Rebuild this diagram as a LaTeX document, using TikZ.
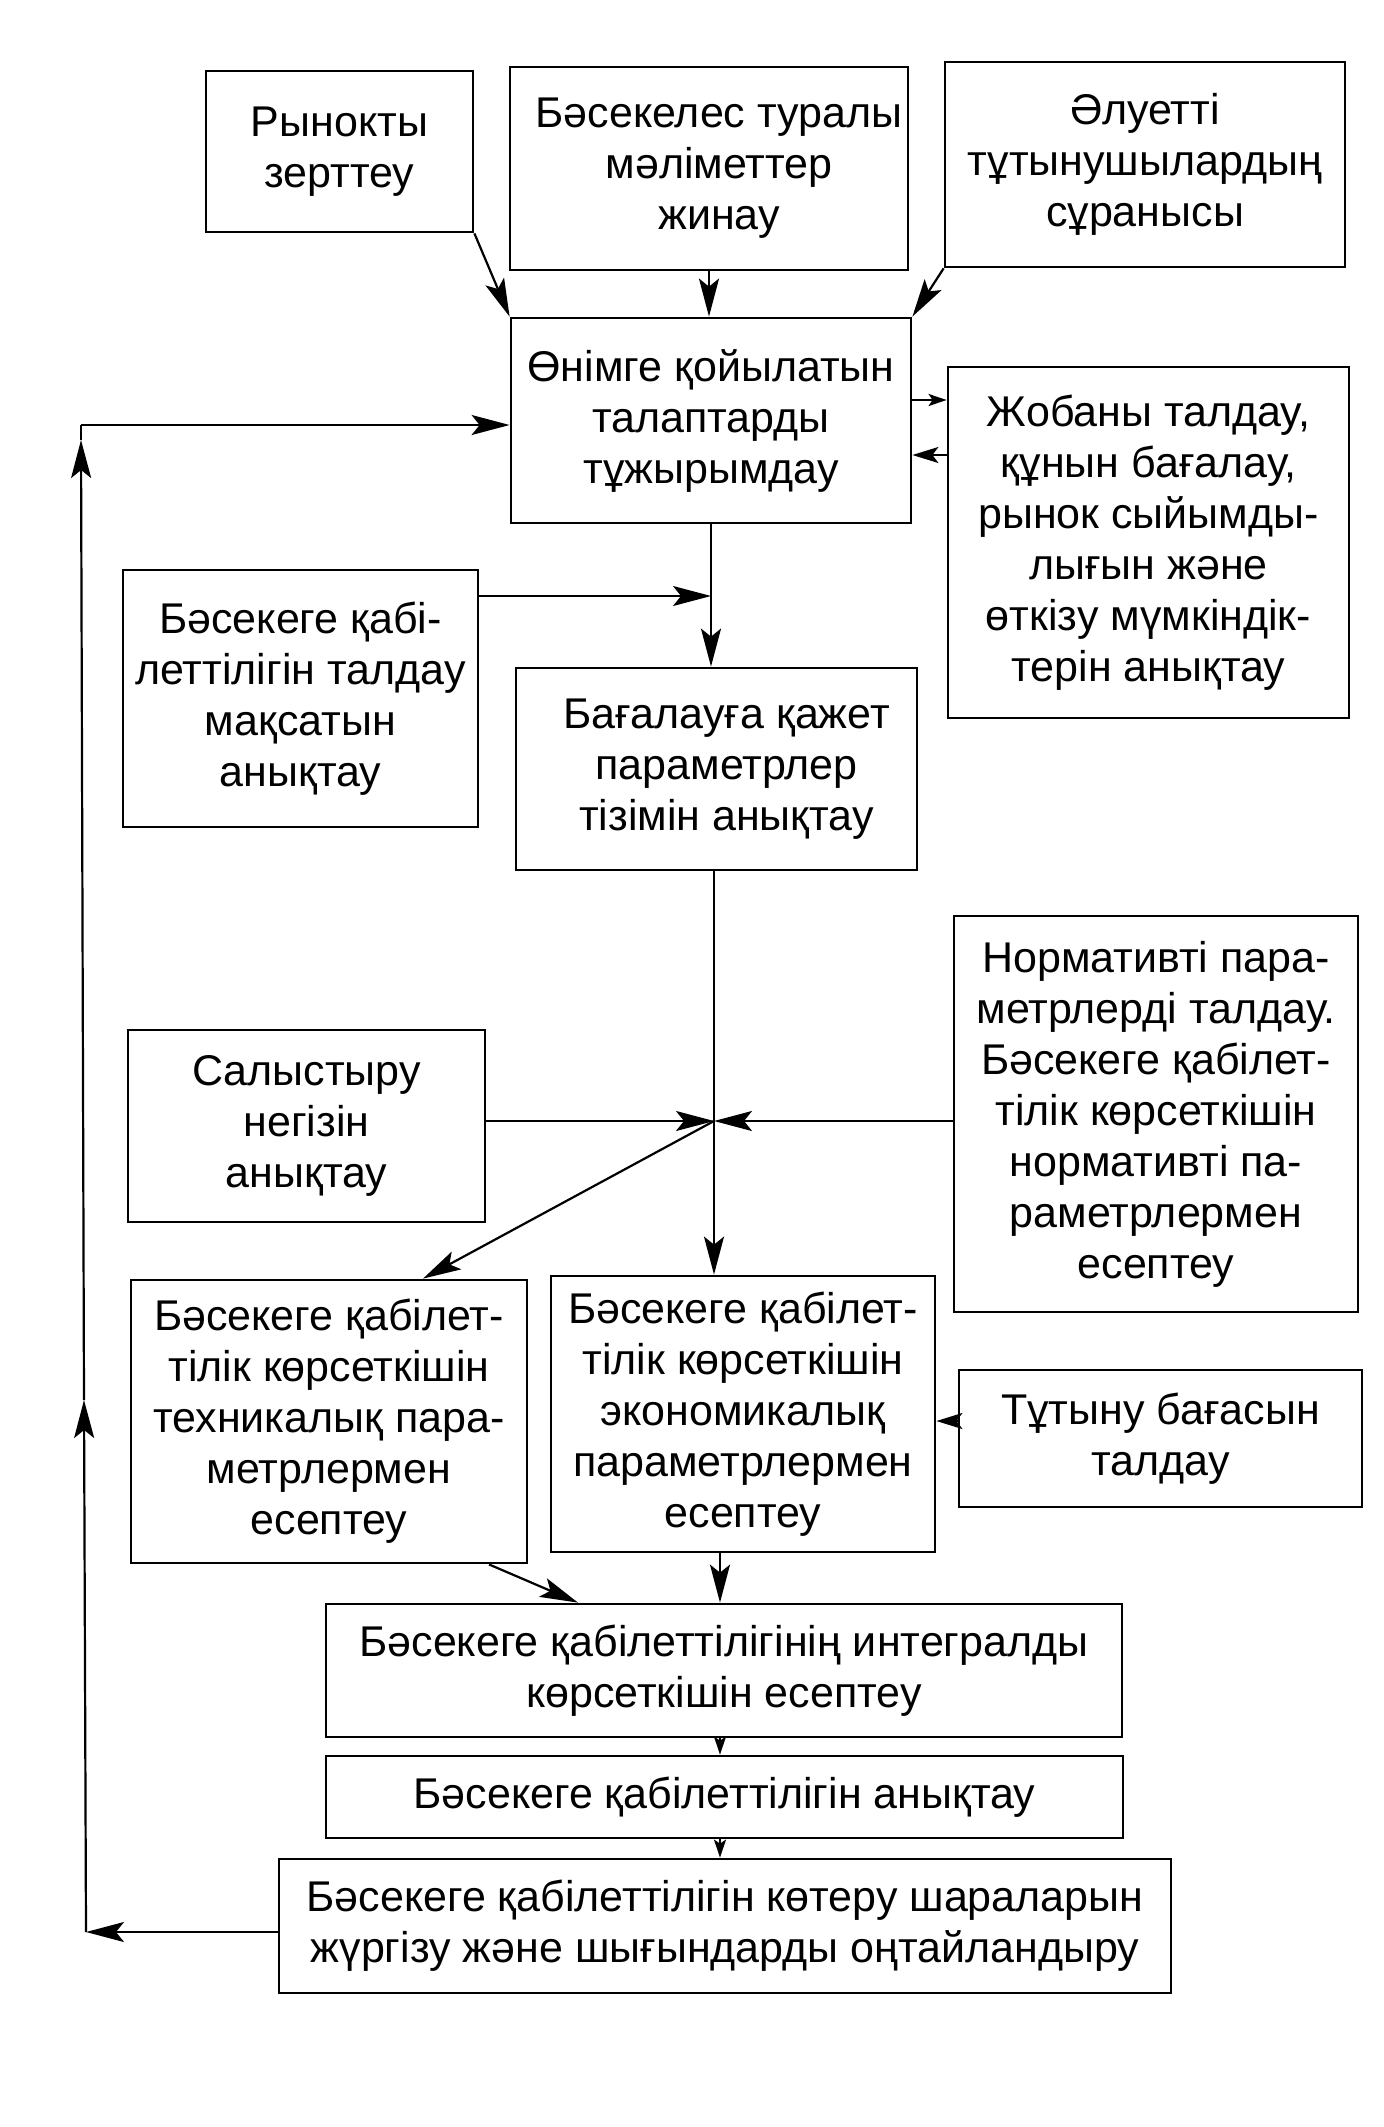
\documentclass[tikz,border=0pt]{standalone}
\usepackage{fontspec}
\setmainfont{Liberation Sans}
\usetikzlibrary{arrows.meta,fit}
\begin{document}
\begin{tikzpicture}[x=0.5pt,y=-0.5pt,
  box/.style={draw, line width=1.4pt, inner sep=0pt},
  txt/.style={inner sep=0pt, align=center, anchor=center,
              font=\fontsize{21.5}{25.5}\selectfont},
  con/.style={line width=1.1pt},
  big/.style={con,-{Stealth[length=19pt,width=10pt,inset=4pt]}},
  mid/.style={con,-{Stealth[length=13pt,width=8pt,inset=3pt]}},
  sml/.style={con,-{Stealth[length=9pt,width=6pt,inset=2pt]}}]
\fill[white] (0,0) rectangle (1383,2127);
\useasboundingbox (0,0) rectangle (1383,2127);

\node[box, fit={(206,71) (473,232)}] (r1) {};
\node[box, fit={(510,67) (908,270)}] (r2) {};
\node[box, fit={(945,62) (1345,267)}] (r3) {};
\node[box, fit={(511,318) (911,523)}] (onim) {};
\node[box, fit={(948,367) (1349,718)}] (job) {};
\node[box, fit={(123,570) (478,827)}] (maqs) {};
\node[box, fit={(516,668) (917,870)}] (bag) {};
\node[box, fit={(954,916) (1358,1312)}] (norm) {};
\node[box, fit={(128,1030) (485,1222)}] (sal) {};
\node[box, fit={(131,1280) (527,1563)}] (tex) {};
\node[box, fit={(551,1276) (935,1552)}] (eko) {};
\node[box, fit={(959,1370) (1362,1507)}] (tut) {};
\node[box, fit={(326,1604) (1122,1737)}] (integ) {};
\node[box, fit={(326,1756) (1123,1838)}] (anyq) {};
\node[box, fit={(279,1859) (1171,1993)}] (kot) {};

\node[txt] (r1t) at (r1.center) {Рынокты\\зерттеу};
\node[txt, xshift=5pt] (r2t) at (r2.center) {Бәсекелес туралы\\мәліметтер\\жинау};
\node[txt] (r3t) at (r3.center) {Әлуетті\\тұтынушылардың\\сұранысы};
\node[txt] (onimt) at (onim.center) {Өнімге қойылатын\\талаптарды\\тұжырымдау};
\node[txt] (jobt) at (job.center) {Жобаны талдау,\\құнын бағалау,\\рынок сыйымды-\\лығын және\\өткізу мүмкіндік-\\терін анықтау};
\node[txt] (maqst) at (maqs.center) {Бәсекеге қабі-\\леттілігін талдау\\мақсатын\\анықтау};
\node[txt, xshift=5pt] (bagt) at (bag.center) {Бағалауға қажет\\параметрлер\\тізімін анықтау};
\node[txt] (normt) at (norm.center) {Нормативті пара-\\метрлерді талдау.\\Бәсекеге қабілет-\\тілік көрсеткішін\\нормативті па-\\раметрлермен\\есептеу};
\node[txt] (salt) at (sal.center) {Салыстыру\\негізін\\анықтау};
\node[txt] (text) at (tex.center) {Бәсекеге қабілет-\\тілік көрсеткішін\\техникалық пара-\\метрлермен\\есептеу};
\node[txt] (ekot) at (eko.center) {Бәсекеге қабілет-\\тілік көрсеткішін\\экономикалық\\параметрлермен\\есептеу};
\node[txt] (tutt) at (tut.center) {Тұтыну бағасын\\талдау};
\node[txt] (integt) at (integ.center) {Бәсекеге қабілеттілігінің интегралды\\көрсеткішін есептеу};
\node[txt] (anyqt) at (anyq.center) {Бәсекеге қабілеттілігін анықтау};
\node[txt] (kott) at (kot.center) {Бәсекеге қабілеттілігін көтеру шараларын\\жүргізу және шығындарды оңтайландыру};

% helper coordinates
\coordinate (xa) at (711,0);
\coordinate (xb) at (714,0);
\coordinate (xc) at (720,0);
\coordinate (y400) at (0,400);
\coordinate (y455) at (0,455);
\coordinate (y596) at (0,596);
\coordinate (J) at (714,1121);
\coordinate (tx) at (423,0);
\coordinate (tb) at (489,0);
\coordinate (ib) at (578,0);
\coordinate (y1421) at (0,1421);
\coordinate (y1932) at (0,1932);
\coordinate (Lb) at (86,1932);
\coordinate (Lm) at (84,1400);
\coordinate (Lu) at (81,440);
\coordinate (Lt) at (81,425);

% top inputs
\draw[big] (r1.south east) -- (onim.north west);
\draw[big] (r2.south) -- (r2.south |- onim.north);
\draw[big] (r3.south west) -- (onim.north east);

% onim <-> job
\draw[sml] (onim.east |- y400) -- (job.west |- y400);
\draw[mid] (job.west |- y455) -- (onim.east |- y455);

% onim -> bag, maqs joins
\draw[big] (xa |- onim.south) -- (xa |- bag.north);
\draw[big] (maqs.east |- y596) -- (xa |- y596);

% bag -> junction -> eko
\draw[con] (xb |- bag.south) -- (J);
\draw[big] (J) -- (xb |- eko.north);
\draw[big] (sal.east |- J) -- (J);
\draw[big] (norm.west |- J) -- (J);
\draw[big] (J) -- (tx |- tex.north);

% tut -> eko
\draw[mid] (tut.west |- y1421) -- (eko.east |- y1421);

% to integral
\draw[big] (tb |- tex.south) -- (ib |- integ.north);
\draw[big] (xc |- eko.south) -- (xc |- integ.north);
\draw[sml] (xc |- integ.south) -- (xc |- anyq.north);
\draw[sml] (xc |- anyq.south) -- (xc |- kot.north);

% feedback loop
\draw[big] (kot.west |- y1932) -- (Lb);
\draw[big] (Lb) -- (Lm);
\draw[big] (Lm) -- (Lu);
\draw[con] (Lu) -- (Lt);
\draw[big] (Lt) -- (onim.west |- Lt);
\end{tikzpicture}
\end{document}
